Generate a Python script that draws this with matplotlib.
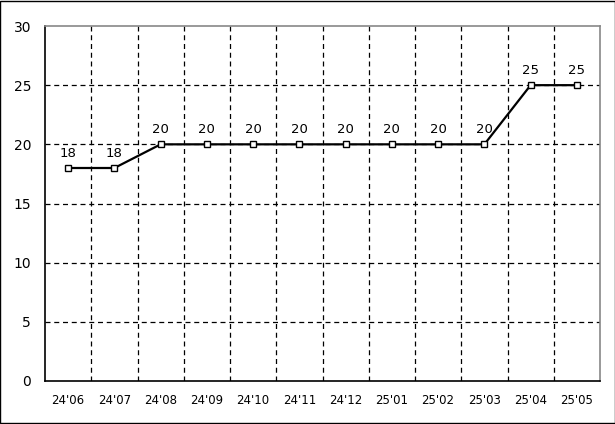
import matplotlib
matplotlib.use('Agg')
import matplotlib.pyplot as plt
import numpy as np

months = ["24'06", "24'07", "24'08", "24'09", "24'10", "24'11",
          "24'12", "25'01", "25'02", "25'03", "25'04", "25'05"]
values = [18, 18, 20, 20, 20, 20, 20, 20, 20, 20, 25, 25]

fig = plt.figure(figsize=(6.15, 4.24), dpi=100)
ax = fig.add_axes([45 / 615, 43 / 424, 555 / 615, 355 / 424])

x = np.arange(len(months))
ax.plot(x, values, color='black', linewidth=1.6, marker='s', markersize=4.5,
        markerfacecolor='white', markeredgecolor='black', markeredgewidth=1, zorder=3)

for xi, v in zip(x, values):
    ax.annotate(str(v), (xi, v), xytext=(0, 6), textcoords='offset points',
                ha='center', va='bottom', fontsize=9.5)

ax.set_xlim(-0.5, len(months) - 0.5)
ax.set_ylim(0, 30)
ax.set_yticks(np.arange(0, 31, 5))
ax.set_xticks(x)
ax.set_xticklabels(months, fontsize=8.5)
ax.tick_params(axis='y', labelsize=10, length=0, pad=10)
ax.tick_params(axis='x', length=0, pad=9)

# grid: dashed lines on category boundaries and y ticks
for b in np.arange(0.5, len(months) - 0.5, 1):
    ax.axvline(b, color='black', linestyle=(0, (4, 3)), linewidth=0.9, zorder=1)
for yv in range(5, 30, 5):
    ax.axhline(yv, color='black', linestyle=(0, (4, 3)), linewidth=0.9, zorder=1)

ax.spines['left'].set_color('black')
ax.spines['bottom'].set_color('black')
ax.spines['top'].set_color('#888888')
ax.spines['right'].set_color('#888888')
for s in ax.spines.values():
    s.set_linewidth(1.2)

# outer border
fig.patches.append(plt.Rectangle((0.0008, 0.0012), 0.9984, 0.9976, transform=fig.transFigure,
                                 fill=False, edgecolor='black', linewidth=1.0))

fig.savefig('out.png', dpi=100)
